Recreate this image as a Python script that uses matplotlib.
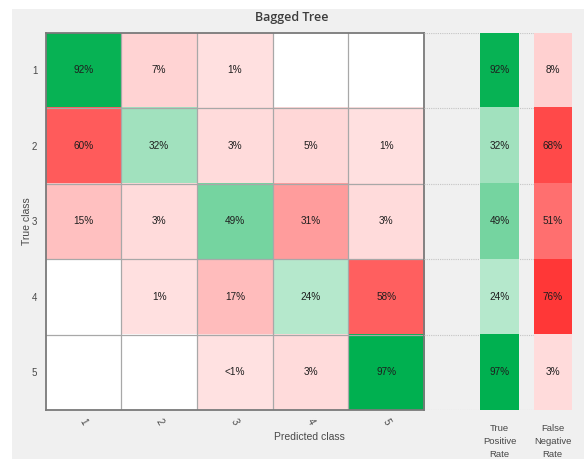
import numpy as np
import matplotlib
matplotlib.use("Agg")
import matplotlib.pyplot as plt
from matplotlib.colors import LinearSegmentedColormap, Normalize
from matplotlib.patches import Rectangle

# ---------------- data ----------------
classes = ["1", "2", "3", "4", "5"]
cell_values = [
    [0.92, 0.07, 0.01, 0.00, 0.00],
    [0.60, 0.32, 0.03, 0.05, 0.01],
    [0.15, 0.03, 0.49, 0.31, 0.03],
    [0.00, 0.01, 0.17, 0.24, 0.58],
    [0.00, 0.00, 0.005, 0.03, 0.97],
]
cell_labels = [
    ["92%", "7%", "1%", "", ""],
    ["60%", "32%", "3%", "5%", "1%"],
    ["15%", "3%", "49%", "31%", "3%"],
    ["", "1%", "17%", "24%", "58%"],
    ["", "", "<1%", "3%", "97%"],
]
tpr_values = [0.92, 0.32, 0.49, 0.24, 0.97]
tpr_labels = ["92%", "32%", "49%", "24%", "97%"]
fnr_values = [0.08, 0.68, 0.51, 0.76, 0.03]
fnr_labels = ["8%", "68%", "51%", "76%", "3%"]

title = "Bagged Tree"
xlabel = "Predicted class"
ylabel = "True class"
tpr_title = "True\nPositive\nRate"
fnr_title = "False\nNegative\nRate"

# ---------------- style ----------------
FONT = "Liberation Sans"
plt.rcParams["font.family"] = [FONT, "DejaVu Sans"]
W, H = 584, 459
green_cmap = LinearSegmentedColormap.from_list("g", ["#ffffff", "#00b050"])
red_cmap = LinearSegmentedColormap.from_list("r", ["#ffffff", "#ff3333"])
green_norm = Normalize(vmin=-0.05, vmax=0.95, clip=True)
red_norm = Normalize(vmin=-0.14 / 1.1, vmax=0.86 / 1.1, clip=True)


def cell_color(v, good):
    if v <= 0:
        return (1, 1, 1)
    if good:
        return green_cmap(green_norm(v))[:3]
    return red_cmap(red_norm(v))[:3]


def px_rect(x0, y0, x1, y1):
    return [x0 / W, 1 - y1 / H, (x1 - x0) / W, (y1 - y0) / H]


fig = plt.figure(figsize=(W / 100, H / 100), dpi=100, facecolor="white")
# grey background panel
fig.patches.append(Rectangle((12 / W, 0), 1, 1 - 9 / H, transform=fig.transFigure,
                             facecolor="#f0f0f0", edgecolor="none", zorder=-10))

n = len(classes)
text_col = "#1e1e1e"
lab_col = "#484848"

# ---------------- main matrix ----------------
ax = fig.add_axes(px_rect(45.7, 32.5, 424, 410))
img = np.array([[cell_color(cell_values[i][j], i == j) for j in range(n)] for i in range(n)])
ax.imshow(img, extent=(0, n, n, 0), aspect="auto", interpolation="nearest")
for k in range(1, n):
    ax.axhline(k, color="#a8a8a8", lw=0.9)
    ax.axvline(k, color="#a8a8a8", lw=0.9)
for i in range(n):
    for j in range(n):
        if cell_labels[i][j]:
            ax.text(j + 0.5, i + 0.5, cell_labels[i][j], ha="center", va="center",
                    fontsize=7.2, color=text_col)
ax.set_xlim(0, n)
ax.set_ylim(n, 0)
ax.set_xticks(np.arange(n) + 0.5)
ax.set_xticklabels(classes, rotation=-60, fontsize=7, color=lab_col)
ax.set_yticks(np.arange(n) + 0.5)
ax.set_yticklabels(classes, fontsize=7, color=lab_col)
ax.tick_params(axis="y", length=0, pad=6)
ax.tick_params(axis="x", length=0, pad=5)
for s in ax.spines.values():
    s.set_color("#7a7a7a")
    s.set_linewidth(1.3)

# ---------------- dotted background lines for summary panel ----------------
axb = fig.add_axes(px_rect(424, 32.5, 572, 410))
axb.set_xlim(0, 1)
axb.set_ylim(n, 0)
axb.axis("off")
axb.patch.set_alpha(0)
for k in range(0, n + 1):
    axb.axhline(k, color="#c4c4c4", lw=0.8, ls=(0, (1, 1)))


def summary(rect, values, labels, good):
    a = fig.add_axes(rect)
    im = np.array([[cell_color(v, good)] for v in values])
    a.imshow(im, extent=(0, 1, n, 0), aspect="auto", interpolation="nearest")
    for i, t in enumerate(labels):
        a.text(0.5, i + 0.5, t, ha="center", va="center", fontsize=7.2, color=text_col)
    a.set_xlim(0, 1)
    a.set_ylim(n, 0)
    a.axis("off")
    return a


summary(px_rect(480.3, 32.5, 518.7, 410), tpr_values, tpr_labels, True)
summary(px_rect(533.7, 32.5, 571.7, 410), fnr_values, fnr_labels, False)

# ---------------- labels ----------------
fig.text(292 / W, 1 - 17.5 / H, title, ha="center", va="center", fontsize=9, color="#3c3c3c",
         family=["Open Sans", "DejaVu Sans"], weight="semibold")
fig.text(309 / W, 1 - 437 / H, xlabel, ha="center", va="center", fontsize=7.5, color=lab_col)
fig.text(27 / W, 1 - 221 / H, ylabel, ha="center", va="center", rotation=90, fontsize=7.5,
         color=lab_col)
fig.text(499.5 / W, 1 - 424 / H, tpr_title, ha="center", va="top", fontsize=6.8, color=lab_col,
         linespacing=1.55)
fig.text(552.7 / W, 1 - 424 / H, fnr_title, ha="center", va="top", fontsize=6.8, color=lab_col,
         linespacing=1.55)

fig.savefig("out.png", dpi=100, facecolor=fig.get_facecolor())
